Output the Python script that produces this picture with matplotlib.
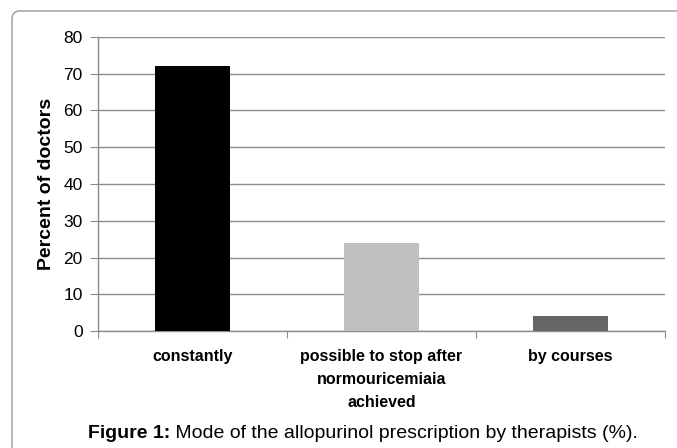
import numpy as np
import matplotlib
matplotlib.use("Agg")
import matplotlib.pyplot as plt
from matplotlib.patches import FancyBboxPatch

plt.rcParams['font.family'] = ['Liberation Sans', 'DejaVu Sans']

categories = ['constantly', 'possible to stop after\nnormouricemiaia\nachieved', 'by courses']
values = [72, 24, 4]
colors = ['#000000', '#c0c0c0', '#666666']

fig = plt.figure(figsize=(6.77, 4.48), dpi=100)

# outer rounded frame (inches)
frame = FancyBboxPatch((0.12, -0.3), 7.2, 4.37 + 0.3,
                       boxstyle="round,pad=0,rounding_size=0.08",
                       transform=fig.dpi_scale_trans, fill=False,
                       edgecolor='#9a9a9a', linewidth=1.0)
fig.patches.append(frame)

ax = fig.add_axes([98 / 677, 1 - 331 / 448, (665 - 98) / 677, (331 - 37) / 448])
x = np.arange(len(categories))
ax.bar(x, values, width=0.4, color=colors, zorder=3)

ax.set_xlim(-0.5, len(categories) - 0.5)
ax.set_ylim(0, 80)
ax.set_yticks(np.arange(0, 81, 10))
ax.yaxis.grid(True, color='#8c8c8c', linewidth=1.0, zorder=0)
ax.set_axisbelow(True)

for s in ['top', 'right']:
    ax.spines[s].set_visible(False)
for s in ['left', 'bottom']:
    ax.spines[s].set_color('#8c8c8c')
    ax.spines[s].set_linewidth(1.0)

ax.tick_params(axis='y', direction='out', length=6, color='#8c8c8c',
               labelsize=12.5, pad=5)
ax.set_xticks(np.arange(len(categories) + 1) - 0.5)
ax.set_xticklabels([])
ax.tick_params(axis='x', direction='out', length=5, color='#8c8c8c')

for i, c in enumerate(categories):
    ax.text(i, -0.062, c, transform=ax.get_xaxis_transform(), ha='center',
            va='top', fontsize=11.5, fontweight='bold', linespacing=1.66)

ax.set_ylabel('Percent of doctors', fontsize=14, fontweight='bold', labelpad=6)

t1 = fig.text(88 / 677, 1 - 433 / 448, 'Figure 1:', fontsize=14,
              fontweight='bold', va='center', ha='left')
ax.annotate(' Mode of the allopurinol prescription by therapists (%).',
            xy=(1, 0), xycoords=t1, va='bottom', ha='left', fontsize=14,
            annotation_clip=False)

fig.savefig('out.png', dpi=100)
